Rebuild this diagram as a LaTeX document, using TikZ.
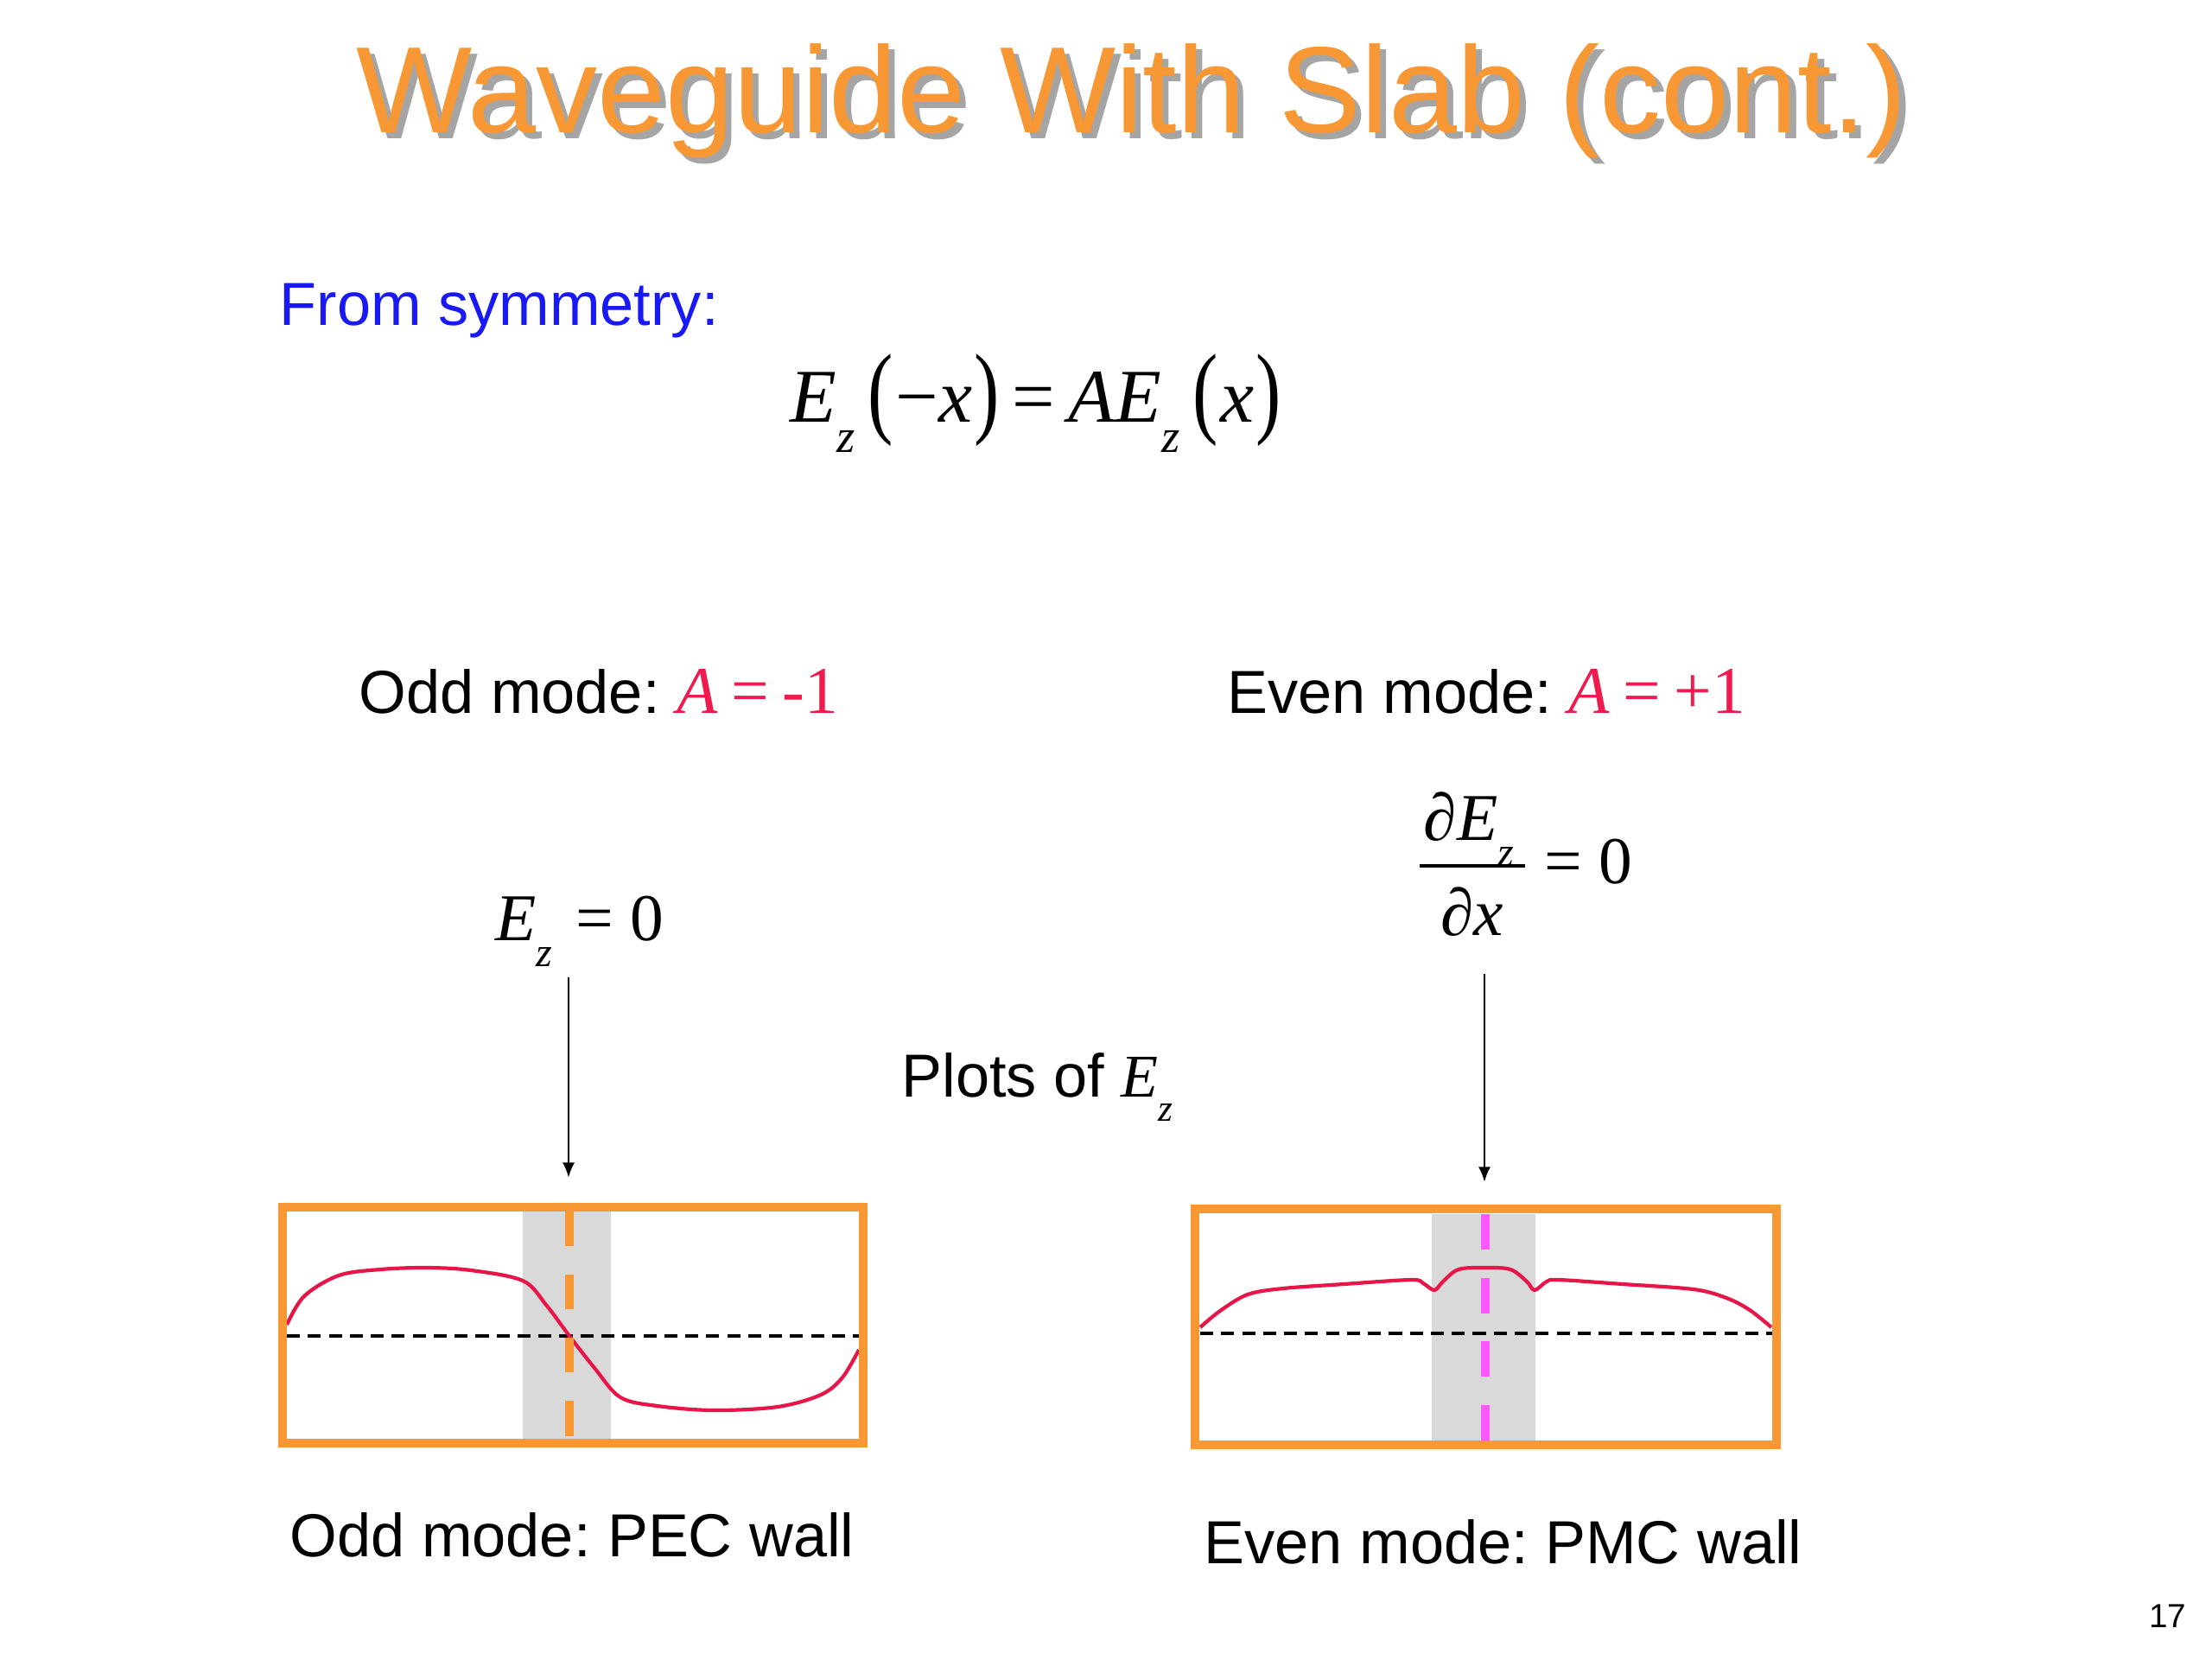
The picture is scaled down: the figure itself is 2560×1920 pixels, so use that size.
\documentclass[tikz,border=0pt]{standalone}
\usepackage{graphicx}
\usepackage{fontspec}
\setmainfont{Liberation Sans}
\newfontfamily\tms{Liberation Serif}
\usetikzlibrary{arrows.meta}
\frenchspacing
\definecolor{ttlorange}{RGB}{247,152,52}
\definecolor{boxorange}{RGB}{247,152,52}
\definecolor{shadowgray}{RGB}{165,165,165}
\definecolor{slabgray}{RGB}{217,217,217}
\definecolor{curvered}{RGB}{232,22,72}
\definecolor{txtred}{RGB}{238,28,78}
\definecolor{txtblue}{RGB}{25,25,245}
\definecolor{pmcmag}{RGB}{255,88,255}
\newcommand{\myEz}{{\tms\itshape E}\raisebox{-0.4em}{\scalebox{0.62}{\tms\itshape z}}}
\newcommand{\mylp}{\raisebox{-0.04em}{\scalebox{1}[1.34]{\tms(}}}
\newcommand{\myrp}{\raisebox{-0.04em}{\scalebox{1}[1.34]{\tms)}}}
\newcommand{\mytitle}{Waveguide With Slab (cont.)}
\begin{document}
\begin{tikzpicture}[x=0.01cm,y=-0.01cm,
  txt/.style={inner sep=0pt, anchor=base west, font=\fontsize{20}{24}\selectfont\frenchspacing},
  mth/.style={inner sep=0pt, anchor=base west, font=\tms\fontsize{22}{26}\selectfont},
  wall/.style={draw=boxorange, line width=2.85pt},
  slab/.style={fill=slabgray, draw=none},
  axisline/.style={draw=black, line width=1.1pt, dash pattern=on 4.3pt off 2.6pt},
  field/.style={draw=curvered, line width=1.2pt, line join=round},
  pecline/.style={draw=boxorange, line width=2.6pt, dash pattern=on 11.4pt off 9.4pt},
  pmcline/.style={draw=pmcmag, line width=2.6pt, dash pattern=on 11.7pt off 9.2pt},
  pointer/.style={draw=black, line width=0.8pt, -{Latex[length=5pt,width=4pt]}}
]
\useasboundingbox[fill=white] (0,0) rectangle (2560,1920);

% title with shadow (one node)
\node[inner sep=0pt, anchor=base, font=\fontsize{40.4}{48}\selectfont, text=ttlorange] (title) at (1310,153)
  {\rlap{\kern0.05em\raisebox{-0.05em}{\color{shadowgray}\mytitle}}\mytitle};

% symmetry
\node[txt, text=txtblue] (from) at (323,376) {From symmetry:};
\node[inner sep=0pt, anchor=base west, font=\tms\fontsize{25}{30}\selectfont] (eq) at (914,488)
  {\myEz\hspace{0.17em}\mylp\kern0.03em−\textit{x}\kern0.03em\myrp\hspace{0.17em}=\hspace{0.17em}\textit{A}\myEz\hspace{0.17em}\mylp\kern0.03em\textit{x}\kern0.03em\myrp};

% mode headings
\node[txt] (oddhead) at (415,825) {Odd mode: {\color{txtred}\tms\fontsize{22}{26}\selectfont\textit{A}\hspace{0.2em}=\hspace{0.2em}-1}};
\node[txt] (evenhead) at (1420,825) {Even mode: {\color{txtred}\tms\fontsize{22}{26}\selectfont\textit{A}\hspace{0.2em}=\hspace{0.2em}+1}};

% conditions
\node[mth] (ezzero) at (573,1088) {\myEz\hspace{0.35em}= 0};
\node[inner sep=0pt, anchor=base, font=\tms\fontsize{22}{26}\selectfont] (numer) at (1700,972) {∂\myEz};
\node[inner sep=0pt, anchor=base, font=\tms\fontsize{22}{26}\selectfont] (denom) at (1704,1082) {∂\textit{x}};
\coordinate (barL) at (1643,1002);
\coordinate (barR) at (1765,1002);
\draw[line width=0.9pt] (barL) -- (barR);
\node[mth] (eqzero) at (1787,1022) {= 0};

% plots label
\node[txt] (plots) at (1043,1269) {Plots of {\tms\fontsize{20}{24}\selectfont{\itshape E}\raisebox{-0.4em}{\scalebox{0.62}{\itshape z}}}};

% arrows
\coordinate (arrLs) at (658,1131);
\coordinate (arrLe) at (658,1363);
\coordinate (arrRs) at (1718,1127);
\coordinate (arrRe) at (1718,1368);
\draw[pointer] (arrLs) -- (arrLe);
\draw[pointer] (arrRs) -- (arrRe);

% ---- left plot (odd mode) ----
\fill[slab] (605,1402) rectangle (707,1665);
\draw[axisline] (332,1546) -- (994,1546);
\draw[field] plot[smooth, tension=0.55] coordinates {(332,1533) (352,1500) (392,1476) (440,1469) (494,1467) (545,1470) (605,1482) (632,1510) (659,1546) (688,1583) (718,1617) (761,1627) (826,1632) (900,1628) (950,1614) (975,1594) (994,1562)};
\draw[pecline] (659,1402) -- (659,1665);
\draw[wall] (327,1397) rectangle (999,1670);

% ---- right plot (even mode) ----
\fill[slab] (1657,1405) rectangle (1777,1667);
\draw[axisline] (1389,1543) -- (2051,1543);
\draw[field] plot[smooth, tension=0.55] coordinates {(1389,1536) (1412,1517) (1444,1498) (1485,1491) (1555,1486) (1633,1481) (1647,1485) (1660,1493) (1670,1483) (1688,1469) (1719,1467) (1748,1469) (1767,1483) (1776,1493) (1790,1483) (1804,1481) (1878,1486) (1960,1492) (1998,1502) (2025,1516) (2050,1536)};
\draw[pmcline] (1719,1405) -- (1719,1667);
\draw[wall] (1383,1399) rectangle (2056,1672);

% captions
\node[txt] (oddcap) at (335,1801) {Odd mode: PEC wall};
\node[txt] (evencap) at (1393,1809) {Even mode: PMC wall};

% page number
\node[inner sep=0pt, anchor=base east, font=\fontsize{11}{13}\selectfont] (pagenum) at (2531,1883) {17};
\end{tikzpicture}
\end{document}
